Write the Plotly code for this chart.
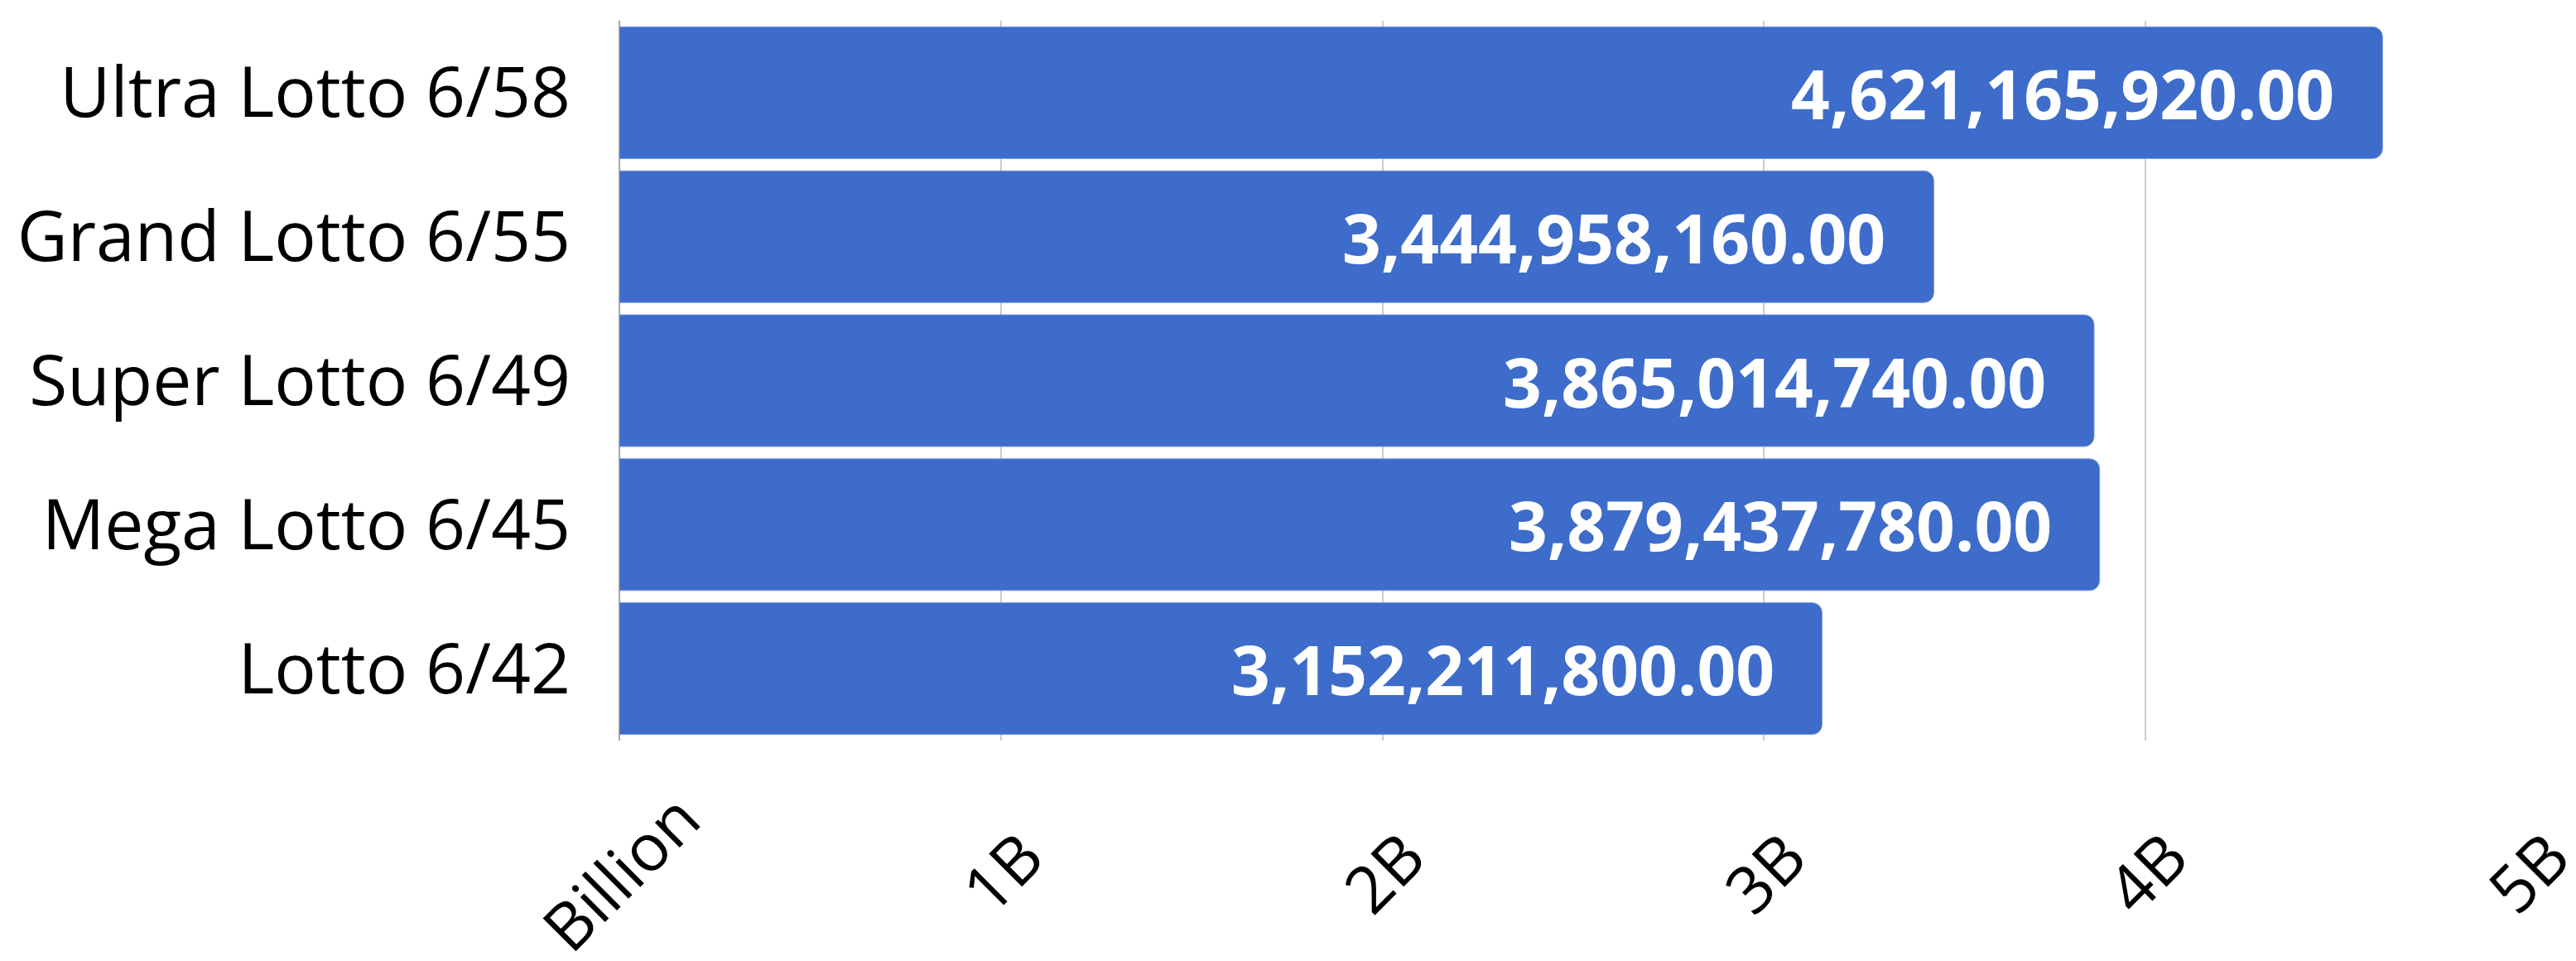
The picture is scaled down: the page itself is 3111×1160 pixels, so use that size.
import plotly.graph_objects as go

categories = ["Lotto 6/42", "Mega Lotto 6/45", "Super Lotto 6/49", "Grand Lotto 6/55", "Ultra Lotto 6/58"]
values = [3152211800.00, 3879437780.00, 3865014740.00, 3444958160.00, 4621165920.00]
tick_values = [0, 1e9, 2e9, 3e9, 4e9, 5e9]
tick_labels = ["Billion", "1B", "2B", "3B", "4B", "5B"]

BAR_COLOR = "#3D6CCA"
FONT = "Open Sans"

fig = go.Figure()
fig.add_trace(go.Bar(
    y=categories,
    x=values,
    orientation="h",
    marker=dict(color=BAR_COLOR, line=dict(color="#7D9BDB", width=1), cornerradius=12),
    hoverinfo="x+y",
))

# value labels inside the bar ends
for c, v in zip(categories, values):
    fig.add_annotation(
        x=v, y=c, xref="x", yref="y",
        text=f"<b>{v:,.2f}</b>",
        showarrow=False,
        xanchor="right", yanchor="middle",
        xshift=-56,
        font=dict(family=FONT, size=82, color="white"),
    )

# rotated x tick labels centred on their ticks
for tv, tl in zip(tick_values, tick_labels):
    fig.add_annotation(
        x=tv, y=0, xref="x", yref="paper",
        text=tl, textangle=-45,
        showarrow=False,
        xanchor="center", yanchor="middle",
        yshift=-158, borderpad=0,
        font=dict(family=FONT, size=79, color="black"),
    )

fig.update_layout(
    width=3111, height=1160,
    margin=dict(l=740, r=67, t=17, b=274),
    plot_bgcolor="white", paper_bgcolor="white",
    bargap=0.085,
    showlegend=False,
    font=dict(family=FONT, color="black"),
)
fig.update_xaxes(
    range=[0, 5e9],
    tickvals=tick_values, ticktext=tick_labels,
    showticklabels=False,
    showgrid=True, gridcolor="#CCCCCC", gridwidth=2,
    zeroline=True, zerolinecolor="#AAAAAA", zerolinewidth=2,
    showline=False, ticks="", automargin=False,
)
fig.update_yaxes(
    tickfont=dict(family=FONT, size=84, color="black"),
    ticks="", showgrid=False, showline=False,
    ticklabelstandoff=58, automargin=False,
)

fig.write_html("out.html")
